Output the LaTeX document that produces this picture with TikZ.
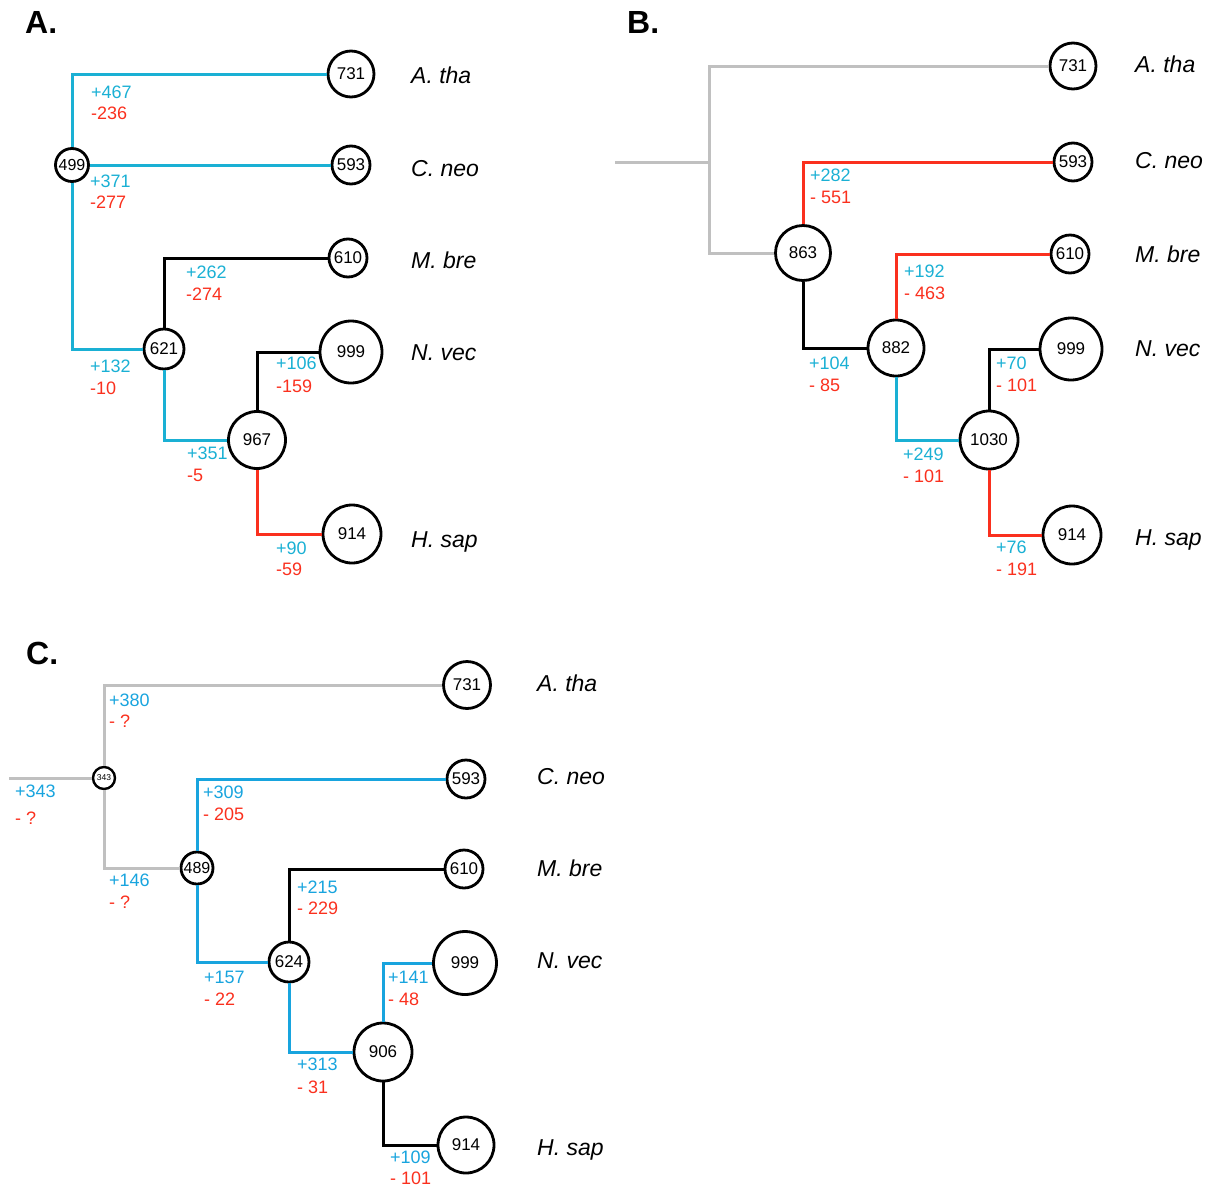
\documentclass[tikz,border=0pt]{standalone}
\usepackage{fontspec}
\setmainfont{Liberation Sans}
\definecolor{gainA}{RGB}{26,176,212}
\definecolor{gainC}{RGB}{24,164,222}
\definecolor{lossred}{RGB}{250,48,30}
\definecolor{stemgray}{RGB}{192,192,192}
\tikzset{
  tnode/.style={circle,draw=black,line width=2.8pt,fill=white,inner sep=0pt,
    minimum size=#1,font=\fontsize{17}{17}\selectfont},
  branch/.style={line width=3pt},
  gainlab/.style={anchor=west,inner sep=0pt,text height=12.9pt,text depth=0pt,
    font=\fontsize{18}{18}\selectfont},
  losslab/.style={anchor=west,inner sep=0pt,text height=12.9pt,text depth=0pt,
    text=lossred,font=\fontsize{18}{18}\selectfont},
  species/.style={anchor=west,inner sep=0pt,text height=16.5pt,text depth=0pt,
    font=\fontsize{23}{23}\selectfont\itshape},
  panel/.style={anchor=west,inner sep=0pt,text height=23pt,text depth=0pt,
    font=\fontsize{32}{32}\selectfont\bfseries},
}
\begin{document}
\begin{tikzpicture}[x=1pt,y=-1pt]
\useasboundingbox (0,0) rectangle (1206,1186);

% ---------------- Panel A ----------------
\node[panel] (pA) at (25,22) {A.};
\node[tnode=46] (a731) at (351,74) {731};
\node[tnode=38] (a593) at (351,165) {593};
\node[tnode=33,font=\fontsize{16}{16}\selectfont] (a499) at (72,165) {499};
\node[tnode=38] (a610) at (348,258) {610};
\node[tnode=40] (a621) at (164,349) {621};
\node[tnode=62] (a999) at (351,352) {999};
\node[tnode=57] (a967) at (257,440) {967};
\node[tnode=58] (a914) at (352,534) {914};

\draw[branch,gainA] (a499.north) |- (a731.west);
\draw[branch,gainA] (a499.east) -- (a593.west);
\draw[branch,gainA] (a499.south) |- (a621.west);
\draw[branch,black] (a621.north) |- (a610.west);
\draw[branch,gainA] (a621.south) |- (a967.west);
\draw[branch,black] (a967.north) |- (a999.west);
\draw[branch,lossred] (a967.south) |- (a914.west);

\node[gainlab,text=gainA] (ag1) at (91,92) {+467};
\node[losslab] (al1) at (91,113) {-236};
\node[gainlab,text=gainA] (ag2) at (90,181) {+371};
\node[losslab] (al2) at (90,202) {-277};
\node[gainlab,text=gainA] (ag3) at (186,272) {+262};
\node[losslab] (al3) at (186,294) {-274};
\node[gainlab,text=gainA] (ag4) at (90,366) {+132};
\node[losslab] (al4) at (90,388) {-10};
\node[gainlab,text=gainA] (ag5) at (276,363) {+106};
\node[losslab] (al5) at (276,386) {-159};
\node[gainlab,text=gainA] (ag6) at (187,453) {+351};
\node[losslab] (al6) at (187,475) {-5};
\node[gainlab,text=gainA] (ag7) at (276,548) {+90};
\node[losslab] (al7) at (276,569) {-59};

\node[species] (asp1) at (411,75) {A. tha};
\node[species] (asp2) at (411,168) {C. neo};
\node[species] (asp3) at (411,260) {M. bre};
\node[species] (asp4) at (411,352) {N. vec};
\node[species] (asp5) at (411,539) {H. sap};

% ---------------- Panel B ----------------
\node[panel] (pB) at (627,22) {B.};
\coordinate (bRoot) at (615,162);
\coordinate (bJoin) at (709,162);
\node[tnode=46] (b731) at (1073,66) {731};
\node[tnode=38] (b593) at (1073,162) {593};
\node[tnode=55] (b863) at (803,253) {863};
\node[tnode=38] (b610) at (1070,254) {610};
\node[tnode=56] (b882) at (896,348) {882};
\node[tnode=62] (b999) at (1071,349) {999};
\node[tnode=58] (b1030) at (989,440) {1030};
\node[tnode=58] (b914) at (1072,535) {914};

\draw[branch,stemgray] (bRoot) -- (bJoin);
\draw[branch,stemgray] (bJoin) |- (b731.west);
\draw[branch,stemgray] (bJoin) |- (b863.west);
\draw[branch,lossred] (b863.north) |- (b593.west);
\draw[branch,black] (b863.south) |- (b882.west);
\draw[branch,lossred] (b882.north) |- (b610.west);
\draw[branch,gainA] (b882.south) |- (b1030.west);
\draw[branch,black] (b1030.north) |- (b999.west);
\draw[branch,lossred] (b1030.south) |- (b914.west);

\node[gainlab,text=gainA] (bg1) at (810,175) {+282};
\node[losslab] (bl1) at (810,197) {- 551};
\node[gainlab,text=gainA] (bg2) at (904,271) {+192};
\node[losslab] (bl2) at (904,293) {- 463};
\node[gainlab,text=gainA] (bg3) at (809,363) {+104};
\node[losslab] (bl3) at (809,385) {- 85};
\node[gainlab,text=gainA] (bg4) at (903,454) {+249};
\node[losslab] (bl4) at (903,476) {- 101};
\node[gainlab,text=gainA] (bg5) at (996,363) {+70};
\node[losslab] (bl5) at (996,385) {- 101};
\node[gainlab,text=gainA] (bg6) at (996,547) {+76};
\node[losslab] (bl6) at (996,569) {- 191};

\node[species] (bsp1) at (1135,64) {A. tha};
\node[species] (bsp2) at (1135,160) {C. neo};
\node[species] (bsp3) at (1135,254) {M. bre};
\node[species] (bsp4) at (1135,348) {N. vec};
\node[species] (bsp5) at (1135,537) {H. sap};

% ---------------- Panel C ----------------
\node[panel] (pC) at (26,653) {C.};
\coordinate (cRoot) at (9,778);
\node[tnode=22,line width=2.4pt,font=\fontsize{8.5}{8.5}\selectfont] (c343) at (104,778) {343};
\node[tnode=47] (c731) at (467,685) {731};
\node[tnode=38] (c593) at (466,779) {593};
\node[tnode=32,font=\fontsize{16}{16}\selectfont] (c489) at (197,868) {489};
\node[tnode=38] (c610) at (464,869) {610};
\node[tnode=40] (c624) at (289,962) {624};
\node[tnode=63] (c999) at (465,963) {999};
\node[tnode=58] (c906) at (383,1052) {906};
\node[tnode=56] (c914) at (466,1145) {914};

\draw[branch,stemgray] (cRoot) -- (c343.west);
\draw[branch,stemgray] (c343.north) |- (c731.west);
\draw[branch,stemgray] (c343.south) |- (c489.west);
\draw[branch,gainC] (c489.north) |- (c593.west);
\draw[branch,gainC] (c489.south) |- (c624.west);
\draw[branch,black] (c624.north) |- (c610.west);
\draw[branch,gainC] (c624.south) |- (c906.west);
\draw[branch,gainC] (c906.north) |- (c999.west);
\draw[branch,black] (c906.south) |- (c914.west);

\node[gainlab,text=gainC] (cg1) at (109,700) {+380};
\node[losslab] (cl1) at (109,721) {- ?};
\node[gainlab,text=gainC] (cg2) at (15,791) {+343};
\node[losslab] (cl2) at (15,818) {- ?};
\node[gainlab,text=gainC] (cg3) at (203,792) {+309};
\node[losslab] (cl3) at (203,814) {- 205};
\node[gainlab,text=gainC] (cg4) at (109,880) {+146};
\node[losslab] (cl4) at (109,902) {- ?};
\node[gainlab,text=gainC] (cg5) at (297,887) {+215};
\node[losslab] (cl5) at (297,908) {- 229};
\node[gainlab,text=gainC] (cg6) at (204,977) {+157};
\node[losslab] (cl6) at (204,999) {- 22};
\node[gainlab,text=gainC] (cg7) at (297,1064) {+313};
\node[losslab] (cl7) at (297,1087) {- 31};
\node[gainlab,text=gainC] (cg8) at (388,977) {+141};
\node[losslab] (cl8) at (388,999) {- 48};
\node[gainlab,text=gainC] (cg9) at (390,1157) {+109};
\node[losslab] (cl9) at (390,1178) {- 101};

\node[species] (csp1) at (537,683) {A. tha};
\node[species] (csp2) at (537,776) {C. neo};
\node[species] (csp3) at (537,868) {M. bre};
\node[species] (csp4) at (537,960) {N. vec};
\node[species] (csp5) at (537,1147) {H. sap};
\end{tikzpicture}
\end{document}
